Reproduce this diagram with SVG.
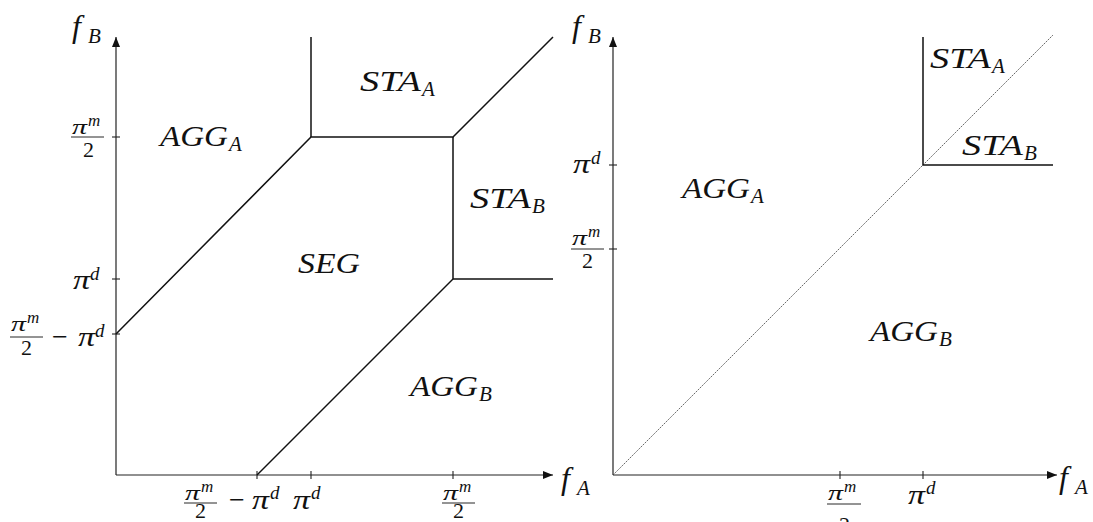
<svg xmlns="http://www.w3.org/2000/svg" width="1093" height="522" viewBox="0 0 1093 522">
<style>
.ax{stroke:#222;stroke-width:1.2;fill:none}
.bd{stroke:#111;stroke-width:1.5;fill:none}
.dg{stroke:#444;stroke-width:0.8;fill:none;stroke-dasharray:2 1}
.tk{stroke:#222;stroke-width:1.1}
.fb{stroke:#111;stroke-width:0.9}
.m{font-family:"Liberation Serif",serif;font-style:italic;fill:#111}
.r{font-family:"Liberation Serif",serif;fill:#111}
.L{font-size:30px}
.F{font-size:32px}
.S{font-size:21px}
.P{font-size:28px}
.p2{font-size:19px}
.n{font-size:22px}
.ns{font-size:17px}
</style>
<defs>
<marker id="arr" markerWidth="10" markerHeight="8" refX="10" refY="4" orient="auto" markerUnits="userSpaceOnUse">
<path d="M0,0 L10,4 L0,8 Z" fill="#111"/>
</marker>
</defs>

<g id="left-plot">
<g id="left-axes">
<line class="ax" x1="116" y1="475" x2="116" y2="37" marker-end="url(#arr)"/>
<line class="ax" x1="116" y1="475" x2="553" y2="475" marker-end="url(#arr)"/>
<line class="tk" x1="112" y1="137" x2="120" y2="137"/>
<line class="tk" x1="112" y1="279" x2="120" y2="279"/>
<line class="tk" x1="112" y1="334" x2="120" y2="334"/>
<line class="tk" x1="257" y1="471" x2="257" y2="479"/>
<line class="tk" x1="311" y1="471" x2="311" y2="479"/>
<line class="tk" x1="453" y1="471" x2="453" y2="479"/>
</g>
<g id="left-boundaries">
<polyline class="bd" points="116,334 311,137 453,137 553,37"/>
<line class="bd" x1="311" y1="137" x2="311" y2="37"/>
<polyline class="bd" points="453,137 453,279 553,279"/>
<line class="bd" x1="453" y1="279" x2="257" y2="475"/>
</g>
<g id="left-axis-labels">
<text class="m F" x="72" y="37">f</text><text class="m S" x="88" y="43">B</text>
<text class="m F" x="561" y="489">f</text><text class="m S" x="577" y="495">A</text>
</g>
<g id="left-ticklabels">
<text class="m n" x="72" y="134" textLength="15" lengthAdjust="spacingAndGlyphs">π</text><text class="m ns" x="88" y="126">m</text>
<line class="fb" x1="71" y1="137" x2="104" y2="137"/>
<text class="r n" x="83" y="157">2</text>
<text class="m P" x="73" y="289" textLength="17" lengthAdjust="spacingAndGlyphs">π</text><text class="m p2" x="90" y="280">d</text>
<text class="m n" x="11" y="331" textLength="15" lengthAdjust="spacingAndGlyphs">π</text><text class="m ns" x="27" y="323">m</text>
<line class="fb" x1="10" y1="337" x2="43" y2="337"/>
<text class="r n" x="21" y="355">2</text>
<text class="r P" x="52" y="346">−</text>
<text class="m P" x="78" y="346" textLength="17" lengthAdjust="spacingAndGlyphs">π</text><text class="m p2" x="95" y="337">d</text>
<text class="m n" x="185" y="500" textLength="15" lengthAdjust="spacingAndGlyphs">π</text><text class="m ns" x="201" y="492">m</text>
<line class="fb" x1="184" y1="503" x2="217" y2="503"/>
<text class="r n" x="195" y="518">2</text>
<text class="r P" x="229" y="509">−</text>
<text class="m P" x="252" y="509" textLength="17" lengthAdjust="spacingAndGlyphs">π</text><text class="m p2" x="270" y="499">d</text>
<text class="m P" x="293" y="509" textLength="17" lengthAdjust="spacingAndGlyphs">π</text><text class="m p2" x="311" y="499">d</text>
<text class="m n" x="443" y="500" textLength="15" lengthAdjust="spacingAndGlyphs">π</text><text class="m ns" x="459" y="492">m</text>
<line class="fb" x1="442" y1="503" x2="475" y2="503"/>
<text class="r n" x="453" y="518">2</text>
</g>
<g id="left-regions">
<text class="m L" x="160" y="146" textLength="68" lengthAdjust="spacingAndGlyphs">AGG</text><text class="m S" x="229" y="151">A</text>
<text class="m L" x="360" y="91" textLength="61" lengthAdjust="spacingAndGlyphs">STA</text><text class="m S" x="422" y="96">A</text>
<text class="m L" x="298" y="273" textLength="62" lengthAdjust="spacingAndGlyphs">SEG</text>
<text class="m L" x="470" y="208" textLength="61" lengthAdjust="spacingAndGlyphs">STA</text><text class="m S" x="532" y="213">B</text>
<text class="m L" x="410" y="396" textLength="68" lengthAdjust="spacingAndGlyphs">AGG</text><text class="m S" x="479" y="401">B</text>
</g>
</g>

<g id="right-plot">
<g id="right-axes">
<line class="ax" x1="613" y1="475" x2="613" y2="37" marker-end="url(#arr)"/>
<line class="ax" x1="613" y1="475" x2="1057" y2="475" marker-end="url(#arr)"/>
<line class="tk" x1="609" y1="165" x2="617" y2="165"/>
<line class="tk" x1="609" y1="249" x2="617" y2="249"/>
<line class="tk" x1="840" y1="471" x2="840" y2="479"/>
<line class="tk" x1="923" y1="471" x2="923" y2="479"/>
</g>
<g id="right-boundaries">
<line class="dg" x1="613" y1="475" x2="1053" y2="35"/>
<polyline class="bd" points="923,37 923,165 1053,165"/>
</g>
<g id="right-axis-labels">
<text class="m F" x="572" y="37">f</text><text class="m S" x="588" y="43">B</text>
<text class="m F" x="1059" y="488">f</text><text class="m S" x="1075" y="494">A</text>
</g>
<g id="right-ticklabels">
<text class="m P" x="573" y="173" textLength="17" lengthAdjust="spacingAndGlyphs">π</text><text class="m p2" x="591" y="164">d</text>
<text class="m n" x="572" y="245" textLength="15" lengthAdjust="spacingAndGlyphs">π</text><text class="m ns" x="588" y="237">m</text>
<line class="fb" x1="571" y1="249" x2="604" y2="249"/>
<text class="r n" x="582" y="268">2</text>
<text class="m n" x="828" y="500" textLength="15" lengthAdjust="spacingAndGlyphs">π</text><text class="m ns" x="844" y="492">m</text>
<line class="fb" x1="827" y1="504" x2="861" y2="504"/>
<text class="r n" x="839" y="532">2</text>
<text class="m P" x="908" y="504" textLength="17" lengthAdjust="spacingAndGlyphs">π</text><text class="m p2" x="926" y="494">d</text>
</g>
<g id="right-regions">
<text class="m L" x="930" y="68" textLength="61" lengthAdjust="spacingAndGlyphs">STA</text><text class="m S" x="992" y="73">A</text>
<text class="m L" x="962" y="155" textLength="61" lengthAdjust="spacingAndGlyphs">STA</text><text class="m S" x="1024" y="160">B</text>
<text class="m L" x="682" y="198" textLength="68" lengthAdjust="spacingAndGlyphs">AGG</text><text class="m S" x="751" y="203">A</text>
<text class="m L" x="870" y="341" textLength="68" lengthAdjust="spacingAndGlyphs">AGG</text><text class="m S" x="939" y="346">B</text>
</g>
</g>
</svg>
